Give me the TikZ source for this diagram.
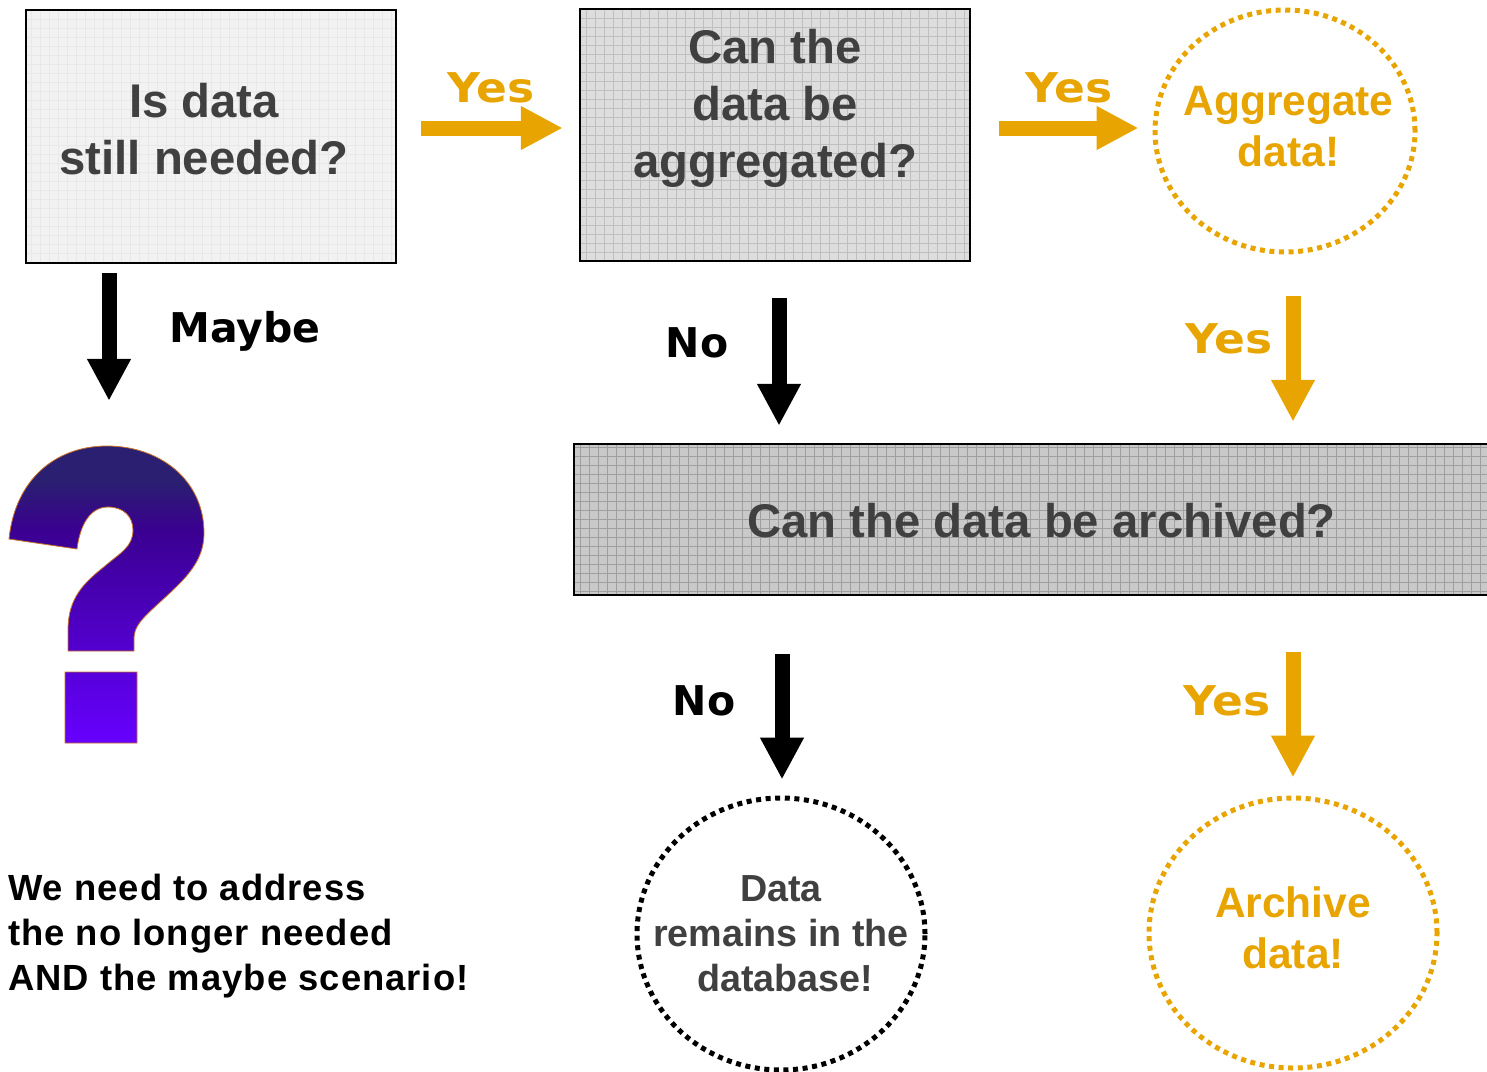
\documentclass[tikz,border=0pt]{standalone}
\usepackage{fontspec}
\setmainfont{Liberation Sans}
\newfontfamily\labelfont{DejaVu Sans}
\newfontfamily\yesfont[FakeStretch=1.11]{DejaVu Sans}
\newfontfamily\spacedfont[LetterSpace=2.8]{Liberation Sans}
\usetikzlibrary{positioning,shapes.geometric,arrows.meta}

\definecolor{goorange}{HTML}{E8A400}
\definecolor{boxtext}{HTML}{404040}
\definecolor{unknowna}{HTML}{2A1F70}
\definecolor{unknownb}{HTML}{3A0090}
\definecolor{unknownc}{HTML}{6600FF}

\pgfdeclareverticalshading{unknownshade}{100bp}{color(0bp)=(unknownc);color(25bp)=(unknownc);color(61bp)=(unknownb);color(69bp)=(unknowna);color(100bp)=(unknowna)}

\tikzset{
  gridbox/.style n args={2}{draw=black,line width=2.5pt,fill=#1,inner sep=0pt,
    path picture={\draw[draw=#2,line width=.7pt,step=9pt] (path picture bounding box.south west) grid (path picture bounding box.north east);}},
  boxlabel/.style={text=boxtext,font=\fontsize{47.3}{57}\selectfont\bfseries,align=center,inner sep=0pt},
  endcircle/.style={ellipse,draw=#1,line width=5pt,dash pattern=on 5pt off 4.6pt,inner sep=-50pt,align=center},
  goarrow/.style={draw=#1,line width=15pt,-{Triangle[length=42pt,width=41pt]}},
  choice/.style={text=#1,font=\fontsize{41}{41}\selectfont\labelfont\bfseries,inner sep=0pt},
  yeschoice/.style={text=goorange,font=\fontsize{41}{41}\selectfont\yesfont\bfseries,inner sep=0pt}
}

\begin{document}
\begin{tikzpicture}[x=1pt,y=-1pt]
\useasboundingbox (0,0) rectangle (1487,1071);

\node [gridbox={gray!10}{gray!18},minimum width=370pt,minimum height=253pt,
  label={[boxlabel,xshift=-7pt,yshift=7pt]center:Is data\\still needed?}] (needed) at (211,136.5) {};
\node [gridbox={gray!27}{gray!50},minimum width=390pt,minimum height=252pt,
  label={[boxlabel,yshift=27pt]center:Can the\\data be\\aggregated?}] (aggregated) at (775,135) {};
\node [gridbox={gray!42}{gray!75},minimum width=930pt,minimum height=151pt,
  label={[boxlabel,xshift=2.5pt,yshift=-1pt]center:Can the data be archived?}] (archived) at (1039,519.5) {};

\node [endcircle=goorange,text=goorange,font=\fontsize{42.5}{51}\selectfont\bfseries,minimum width=260pt,minimum height=242pt] (aggregate) at (1285,131) {\raisebox{6.5pt}{\hspace*{7pt}\begin{tabular}{@{}c@{}}Aggregate\\data!\end{tabular}}};
\node [endcircle=black,text=boxtext,font=\fontsize{37.7}{45}\selectfont\bfseries,minimum width=288pt,minimum height=272pt] (remains) at (781,934) {Data\\remains in the\\\hspace*{8pt}database!};
\node [endcircle=goorange,text=goorange,font=\fontsize{42.5}{51}\selectfont\bfseries,minimum width=288pt,minimum height=270pt] (archive) at (1293,933) {\raisebox{9.5pt}{\begin{tabular}{@{}c@{}}Archive\\data!\end{tabular}}};

% question mark
\node [minimum width=196pt,minimum height=298pt,inner sep=0pt] (unknown) at (107,595) {};
\shade [shading=unknownshade,draw=goorange!70!violet,line width=.8pt]
  (9,539) -- (77,549) .. controls (80,525) and (90,507) .. (108,507)
  .. controls (124,507) and (133,517) .. (133,530) .. controls (133,547) and (120,553) .. (105,566)
  .. controls (85,582) and (68,597) .. (68,630) -- (68,651) -- (134,651) -- (134,637)
  .. controls (135,622) and (150,612) .. (173,590) .. controls (192,572) and (204,556) .. (204,533)
  .. controls (204,480) and (160,446) .. (107,446) .. controls (55,446) and (15,480) .. (9,539) -- cycle
  (65,672) rectangle (137,743);

\node [text=black,anchor=north west,align=left,inner sep=0pt,font=\fontsize{36.4}{45}\selectfont\spacedfont\bfseries] (scenario) at (8,874) {We need to address\\the no longer needed\\AND the maybe scenario!};

% connectors
\coordinate (toprow) at (0,128);
\draw [goarrow=goorange,shorten <=24pt,shorten >=16pt] (needed.east |- toprow) -- (aggregated.west |- toprow);
\draw [goarrow=goorange,shorten <=28pt,shorten >=14pt] (aggregated.east |- toprow) -- (aggregate.west |- toprow);
\draw [goarrow=black,shorten <=9pt,shorten >=45pt] (needed.south -| 109,0) -- (unknown.north -| 109,0);
\draw [goarrow=black,shorten <=36pt,shorten >=17pt] (aggregated.south -| 779,0) -- (archived.north -| 779,0);
\draw [goarrow=black,shorten <=58pt,shorten >=16pt] (archived.south -| 782,0) -- (remains.north -| 782,0);
\draw [goarrow=goorange,shorten <=41pt,shorten >=21pt] (aggregate.south -| 1293,0) -- (archived.north -| 1293,0);
\draw [goarrow=goorange,shorten <=56pt,shorten >=18pt] (archived.south -| 1293,0) -- (archive.north -| 1293,0);

\node [yeschoice] (yesa) at (491,88) {Yes};
\node [yeschoice] (yesb) at (1069,88) {Yes};
\node [yeschoice] (yesc) at (1229,339) {Yes};
\node [yeschoice] (yesd) at (1227,701) {Yes};
\node [choice=black] (maybe) at (245,331) {Maybe};
\node [choice=black] (noa) at (697,343) {No};
\node [choice=black] (nob) at (704,701) {No};

\end{tikzpicture}
\end{document}
